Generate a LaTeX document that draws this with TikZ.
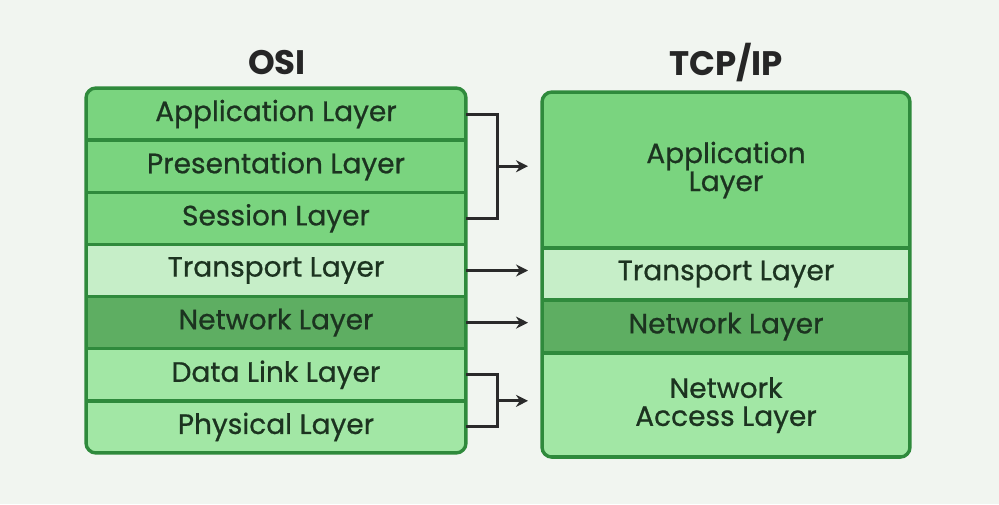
\documentclass[tikz,border=0pt]{standalone}
\usepackage{fontspec}
\setmainfont{Poppins}
\newfontfamily\layerfont{Poppins}[FakeBold=0.7]
\usetikzlibrary{positioning, arrows.meta}
\definecolor{bggray}{HTML}{F1F5F0}
\definecolor{edgegreen}{HTML}{2F8A3C}
\definecolor{midgreen}{HTML}{7AD47F}
\definecolor{palegreen}{HTML}{C6EEC8}
\definecolor{darkgreen}{HTML}{5EAE62}
\definecolor{softgreen}{HTML}{A2E7A5}
\definecolor{inkgray}{HTML}{2A2A2A}
\definecolor{textdark}{HTML}{1C3320}
\tikzstyle{layer} = [rectangle, minimum width=190pt, minimum height=26.07pt, outer sep=0pt, text centered, align=center, draw=edgegreen, line width=1.7pt, font=\layerfont\fontsize{14}{14}\selectfont, text=textdark]
\tikzstyle{tlayer} = [layer, minimum width=184pt]
\tikzstyle{title} = [font=\fontsize{17}{19}\selectfont\bfseries, text=black!85]
\tikzstyle{link} = [line width=1.5pt, draw=inkgray]
\tikzstyle{arrow} = [link, -{Stealth[length=6pt,width=6pt]}, shorten >=7pt]

\begin{document}
\begin{tikzpicture}[x=0.5pt, y=-0.5pt]
  \fill[bggray] (0,0) rectangle (999,504);
  \useasboundingbox (0,0) rectangle (999,504);

  \node (osi) [title] at (277,63) {OSI};
  \node (tcpip) [title] at (726,63) {TCP/IP};

  % OSI stack
  \begin{scope}
    \clip[rounded corners=5pt] (86,88) rectangle (466,453);
    \node (app) [layer, fill=midgreen, anchor=north west] at (86,88) {Application Layer};
    \node (pres) [layer, fill=midgreen, below=0pt of app] {Presentation Layer};
    \node (sess) [layer, fill=midgreen, below=0pt of pres] {Session Layer};
    \node (trans) [layer, fill=palegreen, below=0pt of sess] {Transport Layer};
    \node (net) [layer, fill=darkgreen, below=0pt of trans] {Network Layer};
    \node (dl) [layer, fill=softgreen, below=0pt of net] {Data Link Layer};
    \node (phys) [layer, fill=softgreen, below=0pt of dl] {Physical Layer};
  \end{scope}
  \draw[edgegreen, line width=1.7pt, rounded corners=5pt] (app.north west) rectangle (phys.south east);

  % TCP/IP stack
  \begin{scope}
    \clip[rounded corners=5pt] (542,92) rectangle (910,457);
    \node (tapp) [tlayer, fill=midgreen, minimum height=78pt, anchor=north west] at (542,92) {Application\\Layer};
    \node (ttrans) [tlayer, fill=palegreen, below=0pt of tapp] {Transport Layer};
    \node (tnet) [tlayer, fill=darkgreen, minimum height=26.5pt, below=0pt of ttrans] {Network Layer};
    \node (tacc) [tlayer, fill=softgreen, minimum height=52pt, below=0pt of tnet] {Network\\Access Layer};
  \end{scope}
  \draw[edgegreen, line width=1.7pt, rounded corners=5pt] (tapp.north west) rectangle (tacc.south east);

  % mapping
  \coordinate (upj) at ([xshift=15.5pt]pres.east);
  \coordinate (lowj) at ([xshift=15.5pt]dl.south east);
  \draw[link] (app.east) -| (upj) |- (sess.east);
  \draw[arrow] (upj) -- (upj -| tapp.west);
  \draw[arrow] (trans.east) -- (trans.east -| ttrans.west);
  \draw[arrow] (net.east) -- (net.east -| tnet.west);
  \draw[link] (dl.east) -| (lowj) |- (phys.east);
  \draw[arrow] (lowj) -- (lowj -| tacc.west);
\end{tikzpicture}
\end{document}
